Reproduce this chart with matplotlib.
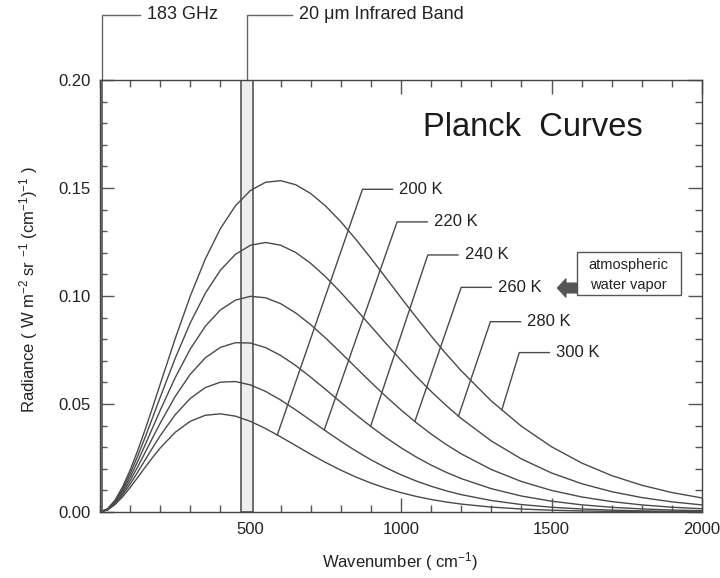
import matplotlib
matplotlib.use("Agg")
import matplotlib.pyplot as plt
import numpy as np
from matplotlib.patches import Rectangle
from matplotlib.ticker import MultipleLocator

plt.rcParams['font.family'] = ['Liberation Sans', 'DejaVu Sans']
plt.rcParams['mathtext.fontset'] = 'custom'
plt.rcParams['mathtext.rm'] = 'Liberation Sans'
plt.rcParams['mathtext.it'] = 'Liberation Sans:italic'
plt.rcParams['mathtext.bf'] = 'Liberation Sans:bold'

# Wavenumber grid (cm^-1) and radiance (W m^-2 sr^-1 (cm^-1)^-1) per temperature
wavenumber = [0, 25, 50, 75, 100, 125, 150, 175, 200, 250, 300, 350, 400, 450,
              500, 550, 600, 650, 700, 750, 800, 850, 900, 950, 1000, 1050,
              1100, 1150, 1200, 1300, 1400, 1500, 1600, 1700, 1800, 1900, 2000]

rad_200 = [0, 0.00094, 0.00344, 0.00703, 0.01131, 0.01596, 0.02070, 0.02531,
           0.02963, 0.03692, 0.04201, 0.04479, 0.04545, 0.04437, 0.04195,
           0.03864, 0.03481, 0.03076, 0.02674, 0.02290, 0.01937, 0.01620,
           0.01341, 0.01100, 0.00895, 0.00723, 0.00580, 0.00463, 0.00367,
           0.00227, 0.00138, 0.00083, 0.00049, 0.00029, 0.00017, 0.00009,
           0.00005]
rad_220 = [0, 0.00105, 0.00385, 0.00794, 0.01290, 0.01839, 0.02411, 0.02982,
           0.03531, 0.04507, 0.05260, 0.05761, 0.06011, 0.06039, 0.05882,
           0.05584, 0.05187, 0.04729, 0.04242, 0.03751, 0.03276, 0.02829,
           0.02419, 0.02050, 0.01723, 0.01438, 0.01192, 0.00982, 0.00804,
           0.00532, 0.00345, 0.00221, 0.00139, 0.00087, 0.00054, 0.00033,
           0.00020]
rad_240 = [0, 0.00115, 0.00426, 0.00885, 0.01450, 0.02085, 0.02758, 0.03441,
           0.04113, 0.05354, 0.06380, 0.07141, 0.07622, 0.07839, 0.07822,
           0.07611, 0.07250, 0.06781, 0.06242, 0.05667, 0.05081, 0.04506,
           0.03958, 0.03445, 0.02975, 0.02550, 0.02172, 0.01838, 0.01547,
           0.01080, 0.00740, 0.00500, 0.00333, 0.00219, 0.00143, 0.00092,
           0.00059]
rad_260 = [0, 0.00125, 0.00467, 0.00977, 0.01611, 0.02333, 0.03108, 0.03907,
           0.04707, 0.06227, 0.07549, 0.08602, 0.09356, 0.09810, 0.09986,
           0.09918, 0.09647, 0.09217, 0.08671, 0.08046, 0.07376, 0.06689,
           0.06008, 0.05349, 0.04725, 0.04143, 0.03610, 0.03126, 0.02692,
           0.01967, 0.01412, 0.00999, 0.00697, 0.00481, 0.00328, 0.00222,
           0.00149]
rad_280 = [0, 0.00136, 0.00508, 0.01069, 0.01773, 0.02582, 0.03461, 0.04379,
           0.05309, 0.07121, 0.08758, 0.10131, 0.11194, 0.11930, 0.12349,
           0.12478, 0.12353, 0.12017, 0.11512, 0.10882, 0.10164, 0.09394,
           0.08600, 0.07805, 0.07029, 0.06285, 0.05583, 0.04930, 0.04330,
           0.03290, 0.02457, 0.01807, 0.01312, 0.00941, 0.00668, 0.00470,
           0.00328]
rad_300 = [0, 0.00146, 0.00549, 0.01161, 0.01935, 0.02833, 0.03817, 0.04855,
           0.05920, 0.08033, 0.10001, 0.11718, 0.13120, 0.14178, 0.14887,
           0.15264, 0.15340, 0.15153, 0.14745, 0.14160, 0.13440, 0.12624,
           0.11747, 0.10839, 0.09924, 0.09023, 0.08151, 0.07320, 0.06538,
           0.05140, 0.03971, 0.03022, 0.02270, 0.01685, 0.01238, 0.00901,
           0.00651]

temps = ['200 K', '220 K', '240 K', '260 K', '280 K', '300 K']
curves = [rad_200, rad_220, rad_240, rad_260, rad_280, rad_300]

# spectral bands marked on the plot (cm^-1)
band_183ghz = (0, 8)
band_ir = (470, 508)

# leader lines: where each one touches its curve, its elbow, and the label
leader_nu = [589, 745, 899, 1046, 1191, 1335]
elbow_x = [872, 987, 1089, 1200, 1297, 1393]
elbow_y = [0.1494, 0.1343, 0.1190, 0.1040, 0.0881, 0.0738]
stub_len = 100
label_gap = 22

ink = '#222222'
line_col = '#4a4a4a'

fig = plt.figure(figsize=(7.2, 5.78), dpi=100)
ax = fig.add_axes([100 / 720, 1 - 512 / 578, 602 / 720, 432 / 578])

for rad in curves:
    ax.plot(wavenumber, rad, color=line_col, lw=1.0, zorder=3)

# bands
for lo, hi in (band_183ghz, band_ir):
    ax.axvspan(lo, hi, facecolor='#eeeeee', edgecolor='#555555', lw=1.2, zorder=2)

# curve labels with leader lines
for name, rad, nu_end, ex, ey in zip(temps, curves, leader_nu, elbow_x, elbow_y):
    y_end = np.interp(nu_end, wavenumber, rad)
    ax.plot([nu_end, ex, ex + stub_len], [y_end, ey, ey], color=line_col, lw=1.0, zorder=4)
    ax.text(ex + stub_len + label_gap, ey, name, fontsize=12, color=ink,
            ha='left', va='center')

# band callouts above the frame
top_y = 0.2301
for nu_c, hook_end, txt in ((sum(band_183ghz) / 2 + 2, 134, '183 GHz'),
                            (sum(band_ir) / 2, 639, '20 μm Infrared Band')):
    ax.plot([nu_c, nu_c, hook_end], [0.2, top_y, top_y], color='#666666', lw=1.0,
            clip_on=False)
    ax.text(hook_end + 22, top_y, txt, fontsize=13, color=ink, ha='left',
            va='center', clip_on=False)

ax.text(0.719, 0.891, 'Planck  Curves', transform=ax.transAxes, fontsize=23.5,
        color='#1a1a1a', ha='center', va='center')

# water vapour note with arrow
ax.add_patch(Rectangle((0.793, 0.5023), 0.1716, 0.1002, transform=ax.transAxes,
                       facecolor='white', edgecolor='#555555', lw=1.0, zorder=5))
ax.text(0.877, 0.5718, 'atmospheric', transform=ax.transAxes, fontsize=10.5,
        color=ink, ha='center', va='center', zorder=6)
ax.text(0.877, 0.5255, 'water vapor', transform=ax.transAxes, fontsize=10.5,
        color=ink, ha='center', va='center', zorder=6)
ax.annotate('', xy=(0.760, 0.5185), xytext=(0.793, 0.5185),
            xycoords='axes fraction', textcoords='axes fraction',
            arrowprops=dict(arrowstyle='simple,head_length=0.6,head_width=1.3,tail_width=0.7',
                            fc='#555555', ec='#555555', mutation_scale=10,
                            shrinkA=0, shrinkB=0))

ax.set_xlim(0, 2000)
ax.set_ylim(0, 0.2)
ax.set_xticks([500, 1000, 1500, 2000])
ax.xaxis.set_minor_locator(MultipleLocator(100))
ax.set_yticks([0, 0.05, 0.10, 0.15, 0.20])
ax.set_yticklabels(['0.00', '0.05', '0.10', '0.15', '0.20'])
ax.yaxis.set_minor_locator(MultipleLocator(0.01))
ax.tick_params(which='both', direction='in', top=True, right=True,
               colors='#555555', labelcolor=ink, labelsize=12, pad=7)
ax.tick_params(which='major', length=10, width=1)
ax.tick_params(which='minor', length=5, width=1)
for s in ax.spines.values():
    s.set_color('#444444')
    s.set_linewidth(1.0)

ax.set_xlabel('Wavenumber ( cm$^{-1}$)', fontsize=12, color=ink)
ax.xaxis.set_label_coords(0.498, -0.088)
ax.set_ylabel('Radiance ( W m$^{-2}$ sr $^{-1}$ (cm$^{-1}$)$^{-1}$ )', fontsize=12, color=ink)
ax.yaxis.set_label_coords(-0.100, 0.514)

fig.savefig('out.png', dpi=100)
